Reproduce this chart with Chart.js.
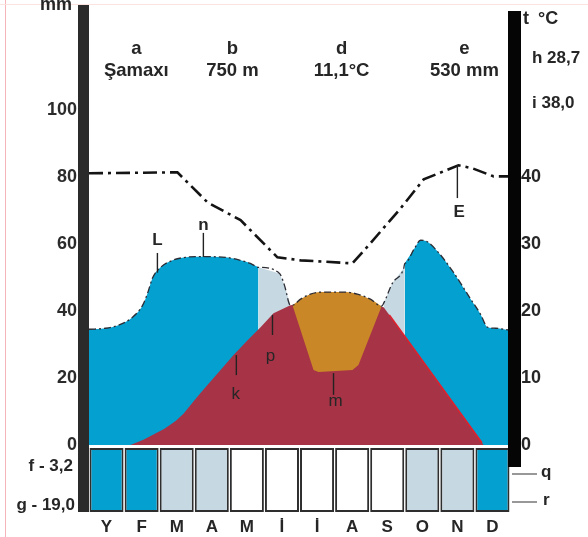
<!DOCTYPE html>
<html lang="az">
<head>
<meta charset="UTF-8">
<title>Şamaxı - iqlim diaqramı</title>
<script src="https://cdn.jsdelivr.net/npm/chart.js"></script>
<style>
  html, body { margin: 0; padding: 0; background: #fff; }
  #wrap { width: 588px; height: 537px; }
</style>
</head>
<body>
<div id="wrap"><canvas id="chart" width="588" height="537"></canvas></div>
<script>
// months and the colour class of each month box
const months = ['Y', 'F', 'M', 'A', 'M', 'İ', 'İ', 'A', 'S', 'O', 'N', 'D'];
const monthBox = ['wet', 'wet', 'mid', 'mid', 'dry', 'dry', 'dry', 'dry', 'dry', 'mid', 'mid', 'wet'];
const mmTicks = [0, 20, 40, 60, 80, 100];
const tempTicks = [0, 10, 20, 30, 40];

// station header
const stationKeys = ['a', 'b', 'd', 'e'];
const stationValues = ['Şamaxı', '750 m', '11,1°C', '530 mm'];

// curves, x = months from start of January, y = mm (temperature side is mm / 2)
const dashLine = [
  {x: 0, y: 81.2}, {x: 2.52, y: 81.5}, {x: 3.38, y: 72.5}, {x: 4.32, y: 67.2},
  {x: 5.37, y: 56.1}, {x: 6.03, y: 55.2}, {x: 7.51, y: 54.3}, {x: 8.02, y: 60.3},
  {x: 8.88, y: 70.7}, {x: 9.54, y: 79.4}, {x: 10.53, y: 83.6}, {x: 10.93, y: 82.7},
  {x: 11.53, y: 80.3}, {x: 12, y: 80.3}
];
const blueLeftTop = [
  {x: 0, y: 34.6}, {x: 0.47, y: 34.9}, {x: 0.84, y: 35.8}, {x: 1.24, y: 38.2},
  {x: 1.53, y: 41.8}, {x: 1.67, y: 45.4}, {x: 1.81, y: 49.9}, {x: 2.04, y: 53.1},
  {x: 2.38, y: 55.2}, {x: 2.75, y: 56.1}, {x: 3.18, y: 56.3}, {x: 3.89, y: 56.1},
  {x: 4.32, y: 55.2}, {x: 4.60, y: 54.3}, {x: 4.83, y: 53.1}
];
const lightLeftTop = [
  {x: 4.83, y: 53.1}, {x: 5.43, y: 51.3}, {x: 5.57, y: 47.8}, {x: 5.74, y: 41.8}
];
const orangeTop = [
  {x: 5.80, y: 41.8}, {x: 6.03, y: 43.6}, {x: 6.31, y: 45.1}, {x: 6.65, y: 45.7},
  {x: 7.31, y: 45.7}, {x: 7.65, y: 45.1}, {x: 8.02, y: 43.6}, {x: 8.34, y: 41.5}
];
const orangeBottom = [
  {x: 5.80, y: 41.8}, {x: 6.40, y: 22.4}, {x: 6.54, y: 21.8}, {x: 7.03, y: 22.1},
  {x: 7.51, y: 22.4}, {x: 7.68, y: 23.9}, {x: 8.34, y: 41.5}
];
const lightRightTop = [
  {x: 8.40, y: 42.4}, {x: 8.65, y: 48.4}, {x: 8.97, y: 52.8}, {x: 9.0, y: 54.3}
];
const blueRightTop = [
  {x: 9.0, y: 54.3}, {x: 9.28, y: 58.8}, {x: 9.45, y: 61.2}, {x: 9.62, y: 60.9},
  {x: 9.93, y: 57.9}, {x: 10.39, y: 51.6}, {x: 10.88, y: 43.6}, {x: 11.16, y: 39.1},
  {x: 11.36, y: 35.2}, {x: 11.59, y: 34.9}, {x: 11.99, y: 34.3}
];
const redCurve = [
  {x: 1.18, y: 0}, {x: 1.55, y: 1.6}, {x: 1.81, y: 3.0}, {x: 2.15, y: 4.9},
  {x: 2.47, y: 7.2}, {x: 2.70, y: 9.4}, {x: 2.89, y: 11.9}, {x: 3.10, y: 14.6},
  {x: 3.32, y: 17.3}, {x: 3.75, y: 22.4}, {x: 4.12, y: 26.9}, {x: 4.52, y: 31.3},
  {x: 4.89, y: 35.2}, {x: 5.26, y: 39.4}, {x: 5.74, y: 41.8}, {x: 7.06, y: 44.0},
  {x: 8.40, y: 41.2}, {x: 11.25, y: 0}
];
const redEdge = [{x: 8.56, y: 38.9}, {x: 11.2, y: 0.7}];

// letter notes: text position and a short pointer line (x in months, y in mm)
const notes = [
  {t: 'L', x: 1.95, y: 61.3, from: 57.4, to: 51.5, bold: true},
  {t: 'n', x: 3.26, y: 65.8, from: 63.4, to: 56.2, bold: true},
  {t: 'k', x: 4.18, y: 15.3, from: 26.9, to: 20.9, bold: false, lx: 4.20},
  {t: 'p', x: 5.17, y: 26.6, from: 38.9, to: 32.9, bold: false, lx: 5.23},
  {t: 'm', x: 7.03, y: 13.2, from: 21.5, to: 15.0, bold: false, lx: 6.97},
  {t: 'E', x: 10.55, y: 69.4, from: 83.7, to: 73.8, bold: true, lx: 10.5}
];

const BLUE = '#04a0d0';
const LIGHT = '#c6d9e3';
const RED = '#a73446';
const ORANGE = '#c98728';
const boxColor = {wet: BLUE, mid: LIGHT, dry: '#ffffff'};
const FONT = "'Liberation Sans', Arial, sans-serif";

const outline = [].concat(blueLeftTop, lightLeftTop, orangeTop, lightRightTop, blueRightTop);

function area(data, color, order, extra) {
  return Object.assign({
    type: 'line', data: data, backgroundColor: color, borderWidth: 0,
    pointRadius: 0, fill: 'origin', order: order, cubicInterpolationMode: 'monotone'
  }, extra || {});
}

const datasets = [
  {
    type: 'bar',
    data: months.map((m, i) => ({x: i + 0.5, y: [-20, -0.9]})),
    backgroundColor: monthBox.map(k => boxColor[k]),
    borderColor: '#2e2e2e', borderWidth: 2, borderSkipped: false,
    barPercentage: 0.97, categoryPercentage: 1, order: 9
  },
  area(blueLeftTop, BLUE, 8),
  area(lightLeftTop, LIGHT, 8, {cubicInterpolationMode: 'default', tension: 0}),
  area(lightRightTop, LIGHT, 8, {cubicInterpolationMode: 'default', tension: 0}),
  area(blueRightTop, BLUE, 8),
  area(redCurve, RED, 6, {cubicInterpolationMode: 'default', tension: 0}),
  {type: 'line', data: redEdge, borderColor: '#e0202c', borderWidth: 1.6, pointRadius: 0, fill: false, order: 5},
  {type: 'line', data: orangeBottom, borderWidth: 0, pointRadius: 0, fill: false, order: 4},
  area(orangeTop, ORANGE, 4, {fill: 7}),
  {
    type: 'line', data: outline, borderColor: '#2c2c34', borderWidth: 1.3,
    borderDash: [7, 3, 2, 3], pointRadius: 0, fill: false, order: 2,
    cubicInterpolationMode: 'monotone'
  },
  {
    type: 'line', data: dashLine, borderColor: '#141414', borderWidth: 2.6,
    borderDash: [14, 5, 3, 5], pointRadius: 0, fill: false, order: 1, tension: 0
  }
];

const decor = {
  id: 'decor',
  afterDatasetsDraw(chart) {
    const {ctx, chartArea: ca, scales} = chart;
    const px = v => scales.x.getPixelForValue(v);
    const py = v => scales.y.getPixelForValue(v);
    const text = (s, x, y, size, bold, align) => {
      ctx.font = (bold ? 'bold ' : '') + size + 'px ' + FONT;
      ctx.textAlign = align || 'center';
      ctx.textBaseline = 'middle';
      ctx.fillText(s, x, y);
    };
    ctx.save();
    // thin frame of the scan
    ctx.fillStyle = '#f6b3b8';
    ctx.fillRect(5, 0, 1, 537);
    ctx.fillStyle = '#fbe3e0';
    ctx.fillRect(0, 4, 588, 1);

    // axis bars
    ctx.fillStyle = '#2b2b2b';
    ctx.fillRect(ca.left - 11, 5, 11, ca.bottom - 5);
    ctx.fillStyle = '#050505';
    ctx.fillRect(ca.right - 2, 11, 13, 456);

    ctx.fillStyle = '#262626';
    // header
    stationKeys.forEach((k, i) => {
      const x = px([1.35, 4.09, 7.2, 10.7][i]);
      text(k, x, 49, 18.5, true);
      text(stationValues[i], x, 71, 18.5, true);
    });
    text('mm', 72, 5, 18, true, 'right');
    text('t', 523, 19, 18, true, 'left');
    text('°C', 538, 19, 18, true, 'left');
    text('h 28,7', 532, 58, 17, true, 'left');
    text('i 38,0', 532, 103, 17, true, 'left');
    text('f - 3,2', 73, 466, 17, true, 'right');
    text('g - 19,0', 75, 505, 17, true, 'right');
    text('q', 541, 472, 17, true, 'left');
    text('r', 543, 500, 17, true, 'left');

    ctx.strokeStyle = '#333';
    ctx.lineWidth = 1.2;
    ctx.beginPath();
    ctx.moveTo(ca.right + 2, 474); ctx.lineTo(537, 474);
    ctx.moveTo(ca.right + 2, 502); ctx.lineTo(537, 502);
    ctx.stroke();

    // letter notes
    notes.forEach(n => {
      const lx = px(n.lx !== undefined ? n.lx : n.x);
      ctx.strokeStyle = '#222';
      ctx.lineWidth = 1.4;
      ctx.beginPath();
      ctx.moveTo(lx, py(n.from));
      ctx.lineTo(lx, py(n.to));
      ctx.stroke();
      text(n.t, px(n.x), py(n.y), 17, n.bold);
    });
    ctx.restore();
  }
};

new Chart(document.getElementById('chart'), {
  type: 'line',
  data: {datasets: datasets},
  options: {
    responsive: false,
    animation: false,
    events: [],
    layout: {padding: {top: 10, left: 0, right: 0, bottom: 0}},
    plugins: {legend: {display: false}, tooltip: {enabled: false}},
    scales: {
      x: {
        type: 'linear', min: 0, max: 12, position: 'bottom', offset: false,
        grid: {display: false, drawTicks: false, offset: false}, border: {display: false},
        afterBuildTicks: s => { s.ticks = months.map((m, i) => ({value: i + 0.5})); },
        afterFit: s => { s.height = 25; s.paddingLeft = 0; s.paddingRight = 0; },
        ticks: {
          autoSkip: false, maxRotation: 0, padding: 5, color: '#262626',
          font: {family: FONT, size: 17, weight: 'bold'},
          callback: (v, i) => months[i]
        }
      },
      y: {
        type: 'linear', min: -20, max: 130, position: 'left',
        grid: {display: false, drawTicks: false}, border: {display: false},
        afterBuildTicks: s => { s.ticks = mmTicks.map(v => ({value: v})); },
        afterFit: s => { s.width = 89; s.paddingTop = 0; s.paddingBottom = 0; },
        ticks: {padding: 12, color: '#2b2b2b', font: {family: FONT, size: 18, weight: 'bold'}}
      },
      t: {
        type: 'linear', min: -10, max: 65, position: 'right',
        grid: {display: false, drawTicks: false}, border: {display: false},
        afterBuildTicks: s => { s.ticks = tempTicks.map(v => ({value: v})); },
        afterFit: s => { s.width = 78; s.paddingTop = 0; s.paddingBottom = 0; },
        ticks: {padding: 11, color: '#262626', font: {family: FONT, size: 18, weight: 'bold'}}
      }
    }
  },
  plugins: [decor]
});
</script>
</body>
</html>
